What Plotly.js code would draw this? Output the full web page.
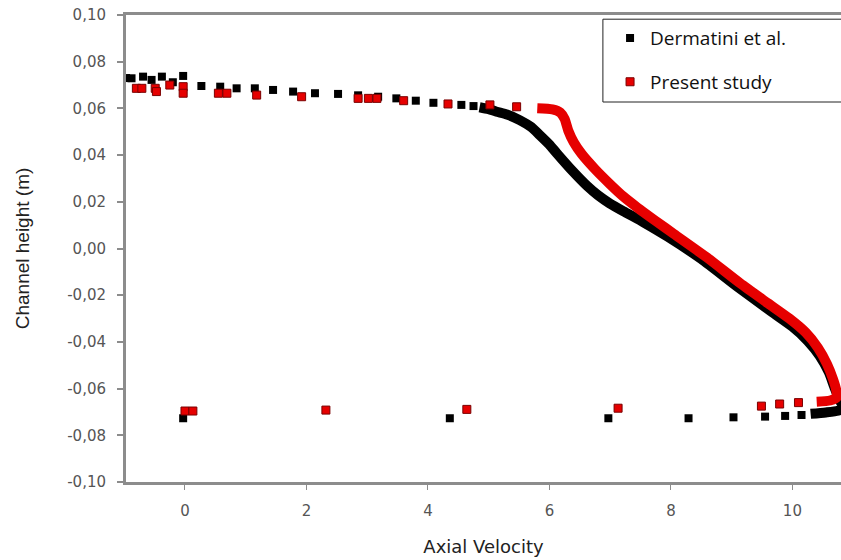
<!DOCTYPE html>
<html>
<head>
<meta charset="utf-8">
<script src="https://cdn.plot.ly/plotly-3.0.1.min.js"></script>
<style>html,body{margin:0;padding:0;background:#fff;}#chart{width:841px;height:560px;}</style>
</head>
<body>
<div id="chart"></div>
<script>
// Dermatini et al. — isolated points (near walls)
const blackX = [-0.97, -0.88, -0.69, -0.55, -0.38, -0.20, -0.03, 0.27, 0.58, 0.85, 1.15, 1.45, 1.78, 2.14, 2.52, 2.85, 3.18, 3.48, 3.80, 4.09, 4.55, 4.75,
                -0.03, 4.36, 6.97, 8.29, 9.03, 9.55, 9.88, 10.15];
const blackY = [0.0730, 0.0729, 0.0736, 0.0722, 0.0736, 0.0712, 0.0739, 0.0696, 0.0693, 0.0686, 0.0686, 0.0679, 0.0672, 0.0665, 0.0662, 0.0656, 0.0650, 0.0643, 0.0633, 0.0624, 0.0615, 0.0610,
                -0.0727, -0.0727, -0.0727, -0.0727, -0.0723, -0.0720, -0.0717, -0.0713];
// Dermatini et al. — dense profile
const blackCurveX = [4.85, 5.00, 5.13, 5.30, 5.51, 5.70, 5.84, 6.00, 6.12, 6.39, 6.62, 6.80, 7.00, 7.25, 7.55, 7.95, 8.50, 9.10, 9.65, 10.00, 10.25, 10.45, 10.60, 10.70, 10.80, 10.88, 10.75, 10.55, 10.30];
const blackCurveY = [0.0605, 0.0597, 0.0586, 0.0574, 0.0550, 0.0520, 0.0486, 0.0445, 0.0408, 0.0329, 0.0268, 0.0228, 0.0192, 0.0155, 0.0112, 0.0050, -0.0045, -0.0165, -0.0270, -0.0335, -0.0395, -0.0460, -0.0530, -0.0600, -0.0660, -0.0680, -0.0695, -0.0702, -0.0708];

// Present study — isolated points
const redX = [-0.80, -0.71, -0.49, -0.47, -0.25, -0.03, -0.03, 0.55, 0.69, 1.18, 1.92, 2.85, 3.02, 3.16, 3.60, 4.33, 5.02, 5.46,
              0.00, 0.13, 2.32, 4.64, 7.13, 9.49, 9.79, 10.10];
const redY = [0.0686, 0.0686, 0.0686, 0.0672, 0.0700, 0.0693, 0.0665, 0.0665, 0.0665, 0.0657, 0.0650, 0.0643, 0.0643, 0.0643, 0.0633, 0.0619, 0.0615, 0.0607,
              -0.0696, -0.0696, -0.0692, -0.0689, -0.0684, -0.0675, -0.0666, -0.0660];
// Present study — dense profile
const redCurveX = [5.80, 6.05, 6.18, 6.25, 6.31, 6.40, 6.53, 6.75, 7.00, 7.22, 7.45, 7.75, 8.05, 8.60, 9.14, 9.60, 9.95, 10.22, 10.42, 10.57, 10.67, 10.72, 10.73, 10.62, 10.40];
const redCurveY = [0.0601, 0.0596, 0.0582, 0.0555, 0.0505, 0.0455, 0.0405, 0.0340, 0.0275, 0.0222, 0.0175, 0.0118, 0.0062, -0.0040, -0.0149, -0.0235, -0.0300, -0.0360, -0.0425, -0.0495, -0.0560, -0.0605, -0.0638, -0.0651, -0.0656];

const yTickVals = [0.10, 0.08, 0.06, 0.04, 0.02, 0.00, -0.02, -0.04, -0.06, -0.08, -0.10];
const yTickText = ['0,10', '0,08', '0,06', '0,04', '0,02', '0,00', '-0,02', '-0,04', '-0,06', '-0,08', '-0,10'];
const xTickVals = [0, 2, 4, 6, 8, 10];
const xTickText = ['0', '2', '4', '6', '8', '10'];

const BLACK = '#000000';
const RED = '#e60000';

const traces = [
  {x: blackCurveX, y: blackCurveY, mode: 'lines', line: {color: BLACK, width: 10, shape: 'spline', smoothing: 0.6},
   legendgroup: 'a', showlegend: false, hoverinfo: 'skip'},
  {x: blackX, y: blackY, mode: 'markers', name: 'Dermatini et al.', legendgroup: 'a',
   marker: {symbol: 'square', size: 8, color: BLACK}},
  {x: redCurveX, y: redCurveY, mode: 'lines', line: {color: RED, width: 10, shape: 'spline', smoothing: 0.6},
   legendgroup: 'b', showlegend: false, hoverinfo: 'skip'},
  {x: redX, y: redY, mode: 'markers', name: 'Present study', legendgroup: 'b',
   marker: {symbol: 'square', size: 8, color: RED, line: {color: '#7a0000', width: 1}}}
];

const layout = {
  width: 841, height: 560,
  margin: {l: 126, r: 0, t: 15, b: 78},
  paper_bgcolor: '#ffffff', plot_bgcolor: '#ffffff',
  showlegend: true,
  legend: {
    x: 0.677, y: 0.991, xanchor: 'left', yanchor: 'top',
    bgcolor: 'rgba(0,0,0,0)', borderwidth: 0,
    font: {family: 'Open Sans', size: 19, color: '#111'},
    traceorder: 'grouped', tracegroupgap: 16
  },
  shapes: [
    {type: 'rect', xref: 'paper', yref: 'paper', x0: 0.667, x1: 1.05, y0: 0.8137, y1: 0.991,
     fillcolor: '#ffffff', line: {color: '#222', width: 1}, layer: 'above'}
  ],
  xaxis: {
    range: [-0.971, 10.80],
    tickvals: xTickVals, ticktext: xTickText,
    showgrid: false, zeroline: false,
    showline: true, linecolor: '#8c8c8c', linewidth: 3, mirror: true,
    ticks: 'outside', ticklen: 5, tickwidth: 1, tickcolor: '#8c8c8c',
    ticklabelstandoff: 8,
    tickfont: {family: 'DejaVu Sans', size: 15, color: '#555'},
    title: {text: 'Axial Velocity', standoff: 22,
            font: {family: 'DejaVu Sans', size: 18, color: '#222'}}
  },
  yaxis: {
    range: [-0.10, 0.10],
    tickvals: yTickVals, ticktext: yTickText,
    showgrid: false, zeroline: false,
    showline: true, linecolor: '#8c8c8c', linewidth: 3,
    ticks: 'outside', ticklen: 6, tickwidth: 2, tickcolor: '#8c8c8c',
    ticklabelstandoff: 8,
    tickfont: {family: 'DejaVu Sans', size: 15, color: '#555'},
    title: {text: 'Channel height (m)', standoff: 33,
            font: {family: 'Liberation Sans', size: 19, color: '#222'}}
  }
};

Plotly.newPlot('chart', traces, layout, {displayModeBar: false, staticPlot: true});
</script>
</body>
</html>
